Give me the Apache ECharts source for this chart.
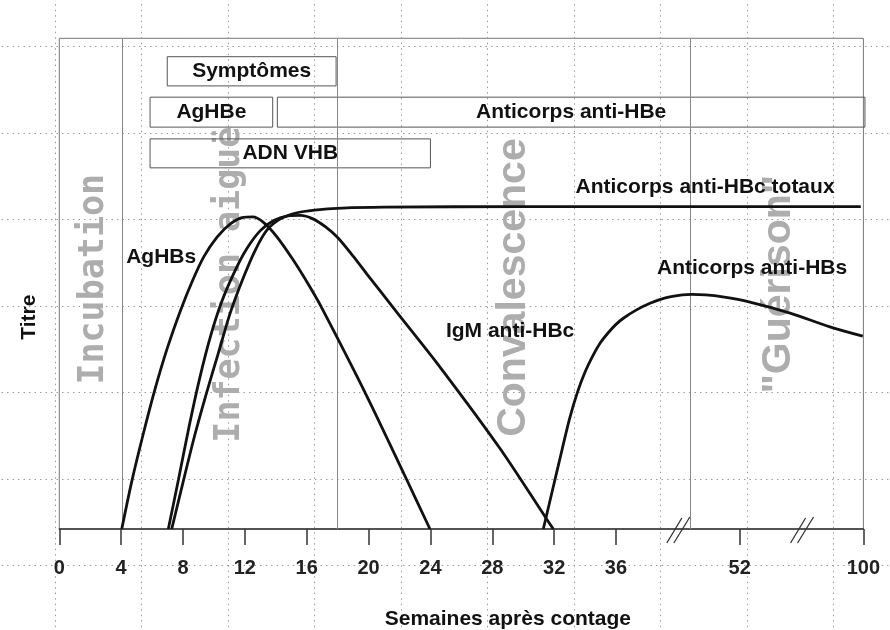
<!DOCTYPE html>
<html>
<head>
<meta charset="utf-8">
<title>Hépatite B aiguë - marqueurs</title>
<script src="https://cdn.jsdelivr.net/npm/echarts@6.0.0/dist/echarts.min.js"></script>
<style>
  body { margin: 0; background: #fff; }
  #main { width: 890px; height: 630px; }
</style>
</head>
<body>
<div id="main"></div>
<script>
// x = position sur l'axe (en semaines jusqu'à 36, échelle coupée ensuite)
const xTickValues = [0, 4, 8, 12, 16, 20, 24, 28, 32, 36, 44, 52];
const xTickLabels = ['0', '4', '8', '12', '16', '20', '24', '28', '32', '36', '52', '100'];
const breakPositions = [40, 48];
const phaseLines = [4.1, 18, 40.8];

// courbes [position, titre]
const agHBs = [[4.04, 0], [4.68, 9.6], [5.4, 19], [6.19, 28.5], [7.0, 37], [7.87, 44.8], [8.6, 50.5],
  [9.35, 55.5], [10.2, 59.5], [11.1, 62.3], [11.9, 63.5], [12.5, 63.6], [13.2, 62.5], [14.06, 59.6],
  [15.13, 54.8], [16.21, 49.3], [17.05, 44.6], [19.9, 27], [22.4, 10.5], [23.97, 0]];
const igmAntiHBc = [[7.05, 0], [7.7, 10], [8.4, 21], [9.1, 31], [9.8, 39.5], [10.5, 46.3], [11.3, 52.2],
  [12.1, 57], [13.0, 60.8], [13.9, 62.9], [14.8, 63.8], [15.6, 63.9], [16.4, 63.2], [17.2, 61.6],
  [18.0, 59.4], [19.0, 55.6], [19.88, 52.0], [21.82, 44.2], [24.62, 33.0], [28.5, 16.4], [31.52, 2.0], [31.95, 0]];
const antiHBcTotaux = [[7.27, 0], [8.0, 9.5], [8.75, 19], [9.5, 27.5], [10.3, 36], [11.05, 44], [11.9, 51.2],
  [12.7, 57], [13.45, 61], [14.3, 63.2], [15.3, 64.4], [16.5, 65.0], [18.3, 65.4], [21, 65.6], [30, 65.7], [51.83, 65.7]];
const antiHBs = [[31.3, 0], [31.9, 8], [32.5, 16], [33.0, 22.5], [33.5, 27.8], [34.0, 32.0], [34.5, 35.3],
  [35.0, 38.0], [35.5, 40.0], [36.0, 41.7], [36.5, 43.0], [37.3, 44.6], [38.2, 46.0], [39.2, 47.1],
  [40.3, 47.7], [40.9, 47.8], [41.8, 47.7], [42.9, 47.3], [44.6, 46.3], [47.26, 44.0], [49.83, 41.2], [51.96, 39.3]];

// bandes en haut
const boxNames = ['Symptômes', 'AgHBe', 'Anticorps anti-HBe', 'ADN VHB'];
const boxFrom = [6.98, 5.87, 14.1, 5.87];
const boxTo = [17.9, 13.8, 52.1, 24.0];
const boxLow = [90.3, 81.9, 81.9, 73.6];
const boxHigh = [96.25, 88.0, 88.0, 79.5];

// phases (texte vertical)
const phaseNames = ['Incubation', 'Infection aiguë', 'Convalescence', '"Guérison"'];
const phaseX = [2.21, 11.05, 29.4, 46.5];
const phaseY = [50.9, 49.8, 49.2, 49.9];

// étiquettes des courbes
const curveNames = ['AgHBs', 'IgM anti-HBc', 'Anticorps anti-HBc totaux', 'Anticorps anti-HBs'];
const curveLabelX = [6.59, 29.15, 41.76, 44.8];
const curveLabelY = [55.4, 40.35, 69.7, 53.2];

const labelFont = 'Liberation Sans';
const curveStyle = { color: '#111', width: 2.8 };

function curve(name, data) {
  return {
    name: name, type: 'line', data: data, smooth: 0.3,
    symbol: 'none', lineStyle: curveStyle, z: 5, silent: true
  };
}

const series = [
  Object.assign(curve('AgHBs', agHBs), {
    markLine: {
      silent: true, symbol: 'none', label: { show: false },
      lineStyle: { color: '#888', type: 'solid', width: 1 },
      data: phaseLines.map(v => ({ xAxis: v }))
    }
  }),
  curve('IgM anti-HBc', igmAntiHBc),
  curve('Anticorps anti-HBc totaux', antiHBcTotaux),
  curve('Anticorps anti-HBs', antiHBs),
  {
    type: 'custom', name: 'phases', z: 1, silent: true,
    data: phaseNames.map((n, i) => [phaseX[i], phaseY[i]]),
    renderItem: function (params, api) {
      const p = api.coord([api.value(0), api.value(1)]);
      const mono = params.dataIndex < 2;
      return {
        type: 'text', x: p[0], y: p[1], rotation: Math.PI / 2,
        style: {
          text: phaseNames[params.dataIndex], fill: '#adadad',
          fontSize: mono ? 35 : 41, fontWeight: 'bold',
          fontFamily: mono ? 'DejaVu Sans Mono' : labelFont,
          align: 'center', verticalAlign: 'middle'
        }
      };
    }
  },
  {
    type: 'custom', name: 'boxes', z: 3, silent: true,
    data: boxNames.map((n, i) => [boxFrom[i], boxTo[i], boxLow[i], boxHigh[i]]),
    renderItem: function (params, api) {
      const a = api.coord([api.value(0), api.value(3)]);
      const b = api.coord([api.value(1), api.value(2)]);
      return {
        type: 'group',
        children: [
          { type: 'rect', shape: { x: a[0], y: a[1], width: b[0] - a[0], height: b[1] - a[1] },
            style: { fill: 'none', stroke: '#555', lineWidth: 1 } },
          { type: 'text', x: (a[0] + b[0]) / 2, y: (a[1] + b[1]) / 2,
            style: { text: boxNames[params.dataIndex], fill: '#111', fontSize: 21, fontWeight: 'bold',
              fontFamily: labelFont, align: 'center', verticalAlign: 'middle' } }
        ]
      };
    }
  },
  {
    type: 'custom', name: 'labels', z: 6, silent: true,
    data: curveNames.map((n, i) => [curveLabelX[i], curveLabelY[i]]),
    renderItem: function (params, api) {
      const p = api.coord([api.value(0), api.value(1)]);
      return {
        type: 'text', x: p[0], y: p[1],
        style: { text: curveNames[params.dataIndex], fill: '#111', fontSize: 21, fontWeight: 'bold',
          fontFamily: labelFont, align: 'center', verticalAlign: 'middle' }
      };
    }
  },
  {
    type: 'custom', name: 'breaks', z: 6, silent: true,
    data: breakPositions.map(v => [v, 0]),
    renderItem: function (params, api) {
      const p = api.coord([api.value(0), api.value(1)]);
      const st = { stroke: '#333', lineWidth: 1.3 };
      return {
        type: 'group',
        children: [
          { type: 'line', shape: { x1: p[0] - 11, y1: p[1] + 14, x2: p[0] + 4, y2: p[1] - 11 }, style: st },
          { type: 'line', shape: { x1: p[0] - 4, y1: p[1] + 14, x2: p[0] + 12, y2: p[1] - 12 }, style: st }
        ]
      };
    }
  }
];

const option = {
  animation: false,
  backgroundColor: '#fff',
  grid: [
    { left: 59.3, right: 26.6, top: 38.3, bottom: 101, show: true, borderColor: '#777', borderWidth: 1,
      outerBoundsMode: 'none' },
    // quadrillage pointillé de fond
    { left: -31.5, top: -39.8, width: 951.5, height: 778.5, outerBoundsMode: 'none' }
  ],
  xAxis: [
    {
      type: 'value', gridIndex: 0, min: 0, max: 52,
      name: 'Semaines après contage', nameLocation: 'middle', nameGap: 80,
      nameTextStyle: { fontSize: 21, fontWeight: 'bold', color: '#111', fontFamily: labelFont, padding: [0, 0, 0, 93] },
      axisLine: { lineStyle: { color: '#333', width: 1.5 } },
      axisTick: { show: true, length: 16, customValues: xTickValues, lineStyle: { color: '#333', width: 1.5 } },
      axisLabel: {
        customValues: xTickValues, margin: 29,
        formatter: v => xTickLabels[xTickValues.indexOf(v)],
        fontSize: 20, fontWeight: 'bold', color: '#222', fontFamily: labelFont
      },
      splitLine: { show: false }
    },
    {
      type: 'value', gridIndex: 1, min: 0, max: 11, interval: 1,
      axisLine: { show: false }, axisTick: { show: false }, axisLabel: { show: false },
      splitLine: { show: true, lineStyle: { color: '#9a9a9a', type: [1.5, 4], width: 1 } }
    }
  ],
  yAxis: [
    {
      type: 'value', gridIndex: 0, min: 0, max: 100,
      name: 'Titre', nameLocation: 'middle', nameGap: 20,
      nameTextStyle: { fontSize: 21, fontWeight: 'bold', color: '#111', fontFamily: labelFont, padding: [0, 67, 0, 0] },
      axisLine: { show: false }, axisTick: { show: false }, axisLabel: { show: false },
      splitLine: { show: false }
    },
    {
      type: 'value', gridIndex: 1, min: 0, max: 9, interval: 1,
      axisLine: { show: false }, axisTick: { show: false }, axisLabel: { show: false },
      splitLine: { show: true, lineStyle: { color: '#9a9a9a', type: [1.5, 4], width: 1 } }
    }
  ],
  series: series
};

const chart = echarts.init(document.getElementById('main'));
chart.setOption(option);
</script>
</body>
</html>
